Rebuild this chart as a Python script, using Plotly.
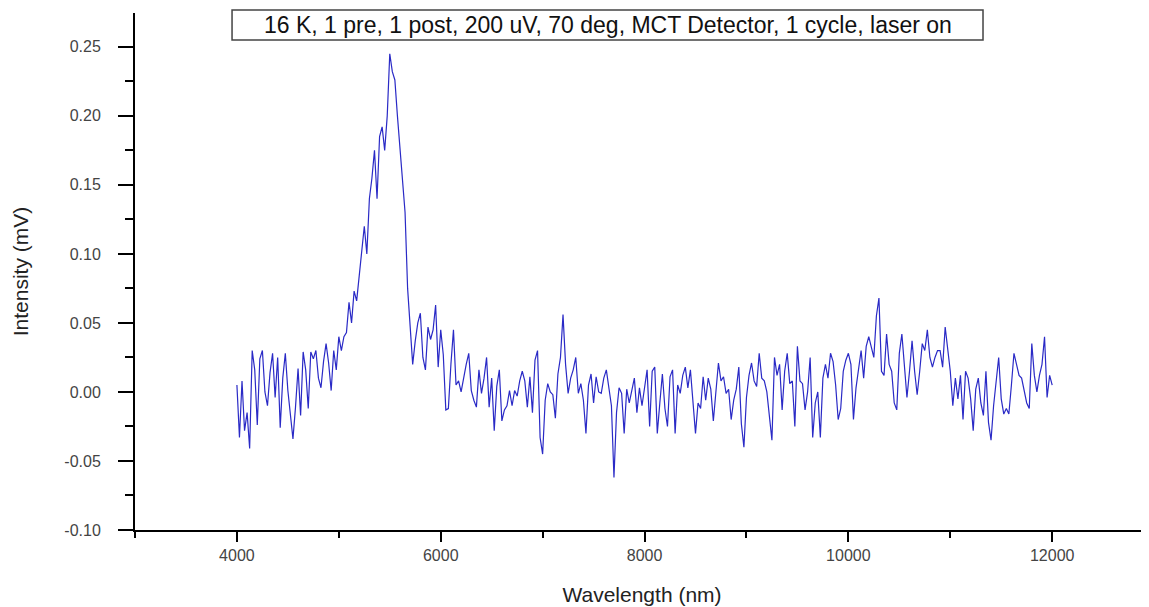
import plotly.graph_objects as go

# Wavelength grid (nm), 25 nm steps from 4000 to 12000
wl_start = 4000
wl_step = 25

# Intensity (mV), in 1000 nm blocks
seg_4000 = [0.005, -0.033, 0.008, -0.028, -0.015, -0.041, 0.030, 0.016, -0.024, 0.024,
            0.030, 0.000, -0.010, 0.014, 0.028, -0.004, 0.025, -0.026, 0.010, 0.028,
            0.001, -0.016, -0.034, -0.011, 0.017, -0.017, 0.029, 0.016, -0.012, 0.029,
            0.024, 0.030, 0.010, 0.003, 0.022, 0.035, 0.021, 0.001, 0.030, 0.016]
seg_5000 = [0.040, 0.030, 0.040, 0.043, 0.065, 0.050, 0.073, 0.066, 0.085, 0.103,
            0.120, 0.100, 0.140, 0.155, 0.175, 0.140, 0.185, 0.192, 0.175, 0.200,
            0.245, 0.232, 0.226, 0.200, 0.178, 0.150, 0.130, 0.075, 0.043, 0.020,
            0.037, 0.050, 0.057, 0.025, 0.016, 0.047, 0.038, 0.045, 0.063, 0.018]
seg_6000 = [0.045, 0.027, -0.013, -0.012, 0.020, 0.045, 0.005, 0.008, 0.000, 0.011,
            0.020, 0.028, 0.001, -0.006, -0.011, 0.016, -0.001, 0.010, 0.025, -0.011,
            0.010, -0.028, 0.004, 0.016, -0.021, -0.013, -0.010, 0.001, -0.010, 0.001,
            -0.003, 0.008, 0.015, 0.008, -0.011, 0.011, -0.015, 0.023, 0.030, -0.033]
seg_7000 = [-0.045, -0.006, 0.006, 0.000, -0.002, -0.019, 0.013, 0.025, 0.056, 0.020,
            -0.001, 0.010, 0.016, 0.025, -0.001, 0.006, -0.006, -0.030, 0.005, 0.013,
            -0.008, 0.011, 0.000, -0.001, 0.010, 0.016, 0.003, -0.010, -0.062, -0.015,
            0.003, -0.001, -0.030, 0.002, -0.008, 0.000, 0.010, -0.015, 0.003, -0.010]
seg_8000 = [0.005, 0.016, -0.025, 0.015, 0.018, -0.030, -0.008, 0.013, -0.012, -0.025,
            0.011, 0.016, -0.030, 0.005, -0.001, 0.012, 0.018, 0.003, 0.016, -0.010,
            -0.030, -0.008, -0.012, 0.011, -0.006, 0.010, 0.002, -0.021, 0.002, 0.021,
            0.008, 0.011, -0.001, 0.002, -0.020, -0.006, 0.002, 0.018, -0.023, -0.040]
seg_9000 = [-0.004, 0.012, 0.021, 0.008, 0.004, 0.028, 0.010, 0.008, 0.000, -0.020,
            -0.035, 0.025, 0.012, 0.020, -0.013, 0.015, 0.028, 0.006, 0.008, -0.025,
            0.033, 0.008, 0.006, -0.013, 0.000, 0.025, -0.033, -0.008, 0.000, -0.033,
            0.010, 0.020, 0.010, 0.028, 0.022, 0.005, -0.020, -0.012, 0.015, 0.023]
seg_10000 = [0.028, 0.020, -0.020, 0.003, 0.016, 0.030, 0.010, 0.033, 0.040, 0.033,
             0.025, 0.055, 0.068, 0.015, 0.012, 0.042, 0.020, 0.015, -0.008, -0.013,
             0.028, 0.042, 0.015, -0.004, 0.015, 0.037, 0.015, -0.002, 0.015, 0.035,
             0.030, 0.045, 0.025, 0.018, 0.025, 0.030, 0.030, 0.018, 0.047, 0.030]
seg_11000 = [0.015, -0.010, 0.010, -0.005, 0.012, -0.020, 0.015, 0.010, -0.005, -0.028,
             0.002, 0.010, -0.008, -0.017, 0.015, -0.022, -0.035, -0.010, 0.008, 0.025,
             -0.005, -0.016, -0.012, -0.016, 0.005, 0.028, 0.020, 0.012, 0.010, 0.000,
             -0.008, -0.012, 0.035, 0.012, 0.000, 0.012, 0.020, 0.040, -0.004, 0.012]
seg_12000 = [0.005]

intensity = seg_4000 + seg_5000 + seg_6000 + seg_7000 + seg_8000 + seg_9000 + seg_10000 + seg_11000 + seg_12000
wavelength = [wl_start + i * wl_step for i in range(len(intensity))]

x_ticks = [4000, 6000, 8000, 10000, 12000]
y_ticks = [-0.10, -0.05, 0.00, 0.05, 0.10, 0.15, 0.20, 0.25]
title_text = "16 K, 1 pre, 1 post, 200 uV, 70 deg, MCT Detector, 1 cycle, laser on"

fig = go.Figure()
fig.add_trace(go.Scatter(x=wavelength, y=intensity, mode="lines",
                         line=dict(color="#2a2ac6", width=1.2), showlegend=False))

font_family = "Liberation Sans, Arial, sans-serif"
fig.update_layout(
    width=1141, height=599,
    margin=dict(l=127, r=0, t=5, b=77),
    paper_bgcolor="white", plot_bgcolor="white",
    font=dict(family=font_family, color="#333333"),
)
fig.update_xaxes(
    range=[3000, 12950], tickvals=x_ticks, ticktext=[str(v) for v in x_ticks],
    showgrid=False, zeroline=False, showline=True, linecolor="black", linewidth=2,
    ticks="outside", ticklen=10, tickwidth=2, tickcolor="black",
    tickfont=dict(size=16, color="#444444"),
    minor=dict(dtick=1000, tick0=3000, ticks="outside", ticklen=6, tickwidth=2, tickcolor="black", showgrid=False),
    title=dict(text="Wavelength (nm)", font=dict(size=21, color="#222222"), standoff=24),
)
fig.update_yaxes(
    range=[-0.10, 0.2745], tickvals=y_ticks, ticktext=[f"{v:.2f}" for v in y_ticks],
    showgrid=False, zeroline=False, showline=True, linecolor="black", linewidth=2,
    ticks="outside", ticklen=15, tickwidth=2, tickcolor="black",
    tickfont=dict(size=16, color="#444444"), ticklabelstandoff=14,
    minor=dict(dtick=0.05, tick0=-0.075, ticks="outside", ticklen=8, tickwidth=2, tickcolor="black", showgrid=False),
    title=dict(text="Intensity (mV)", font=dict(size=21, color="#222222"), standoff=30),
)

fig.add_shape(type="rect", xref="paper", yref="paper",
              x0=0.0957, x1=0.8363, y0=0.9478, y1=1.0058,
              line=dict(color="#444444", width=1.5), fillcolor="white", layer="above")
fig.add_annotation(text=title_text, xref="paper", yref="paper", x=0.466, y=0.977,
                   showarrow=False, font=dict(size=23, color="#111111", family=font_family),
                   xanchor="center", yanchor="middle")

fig.write_html("out.html")
